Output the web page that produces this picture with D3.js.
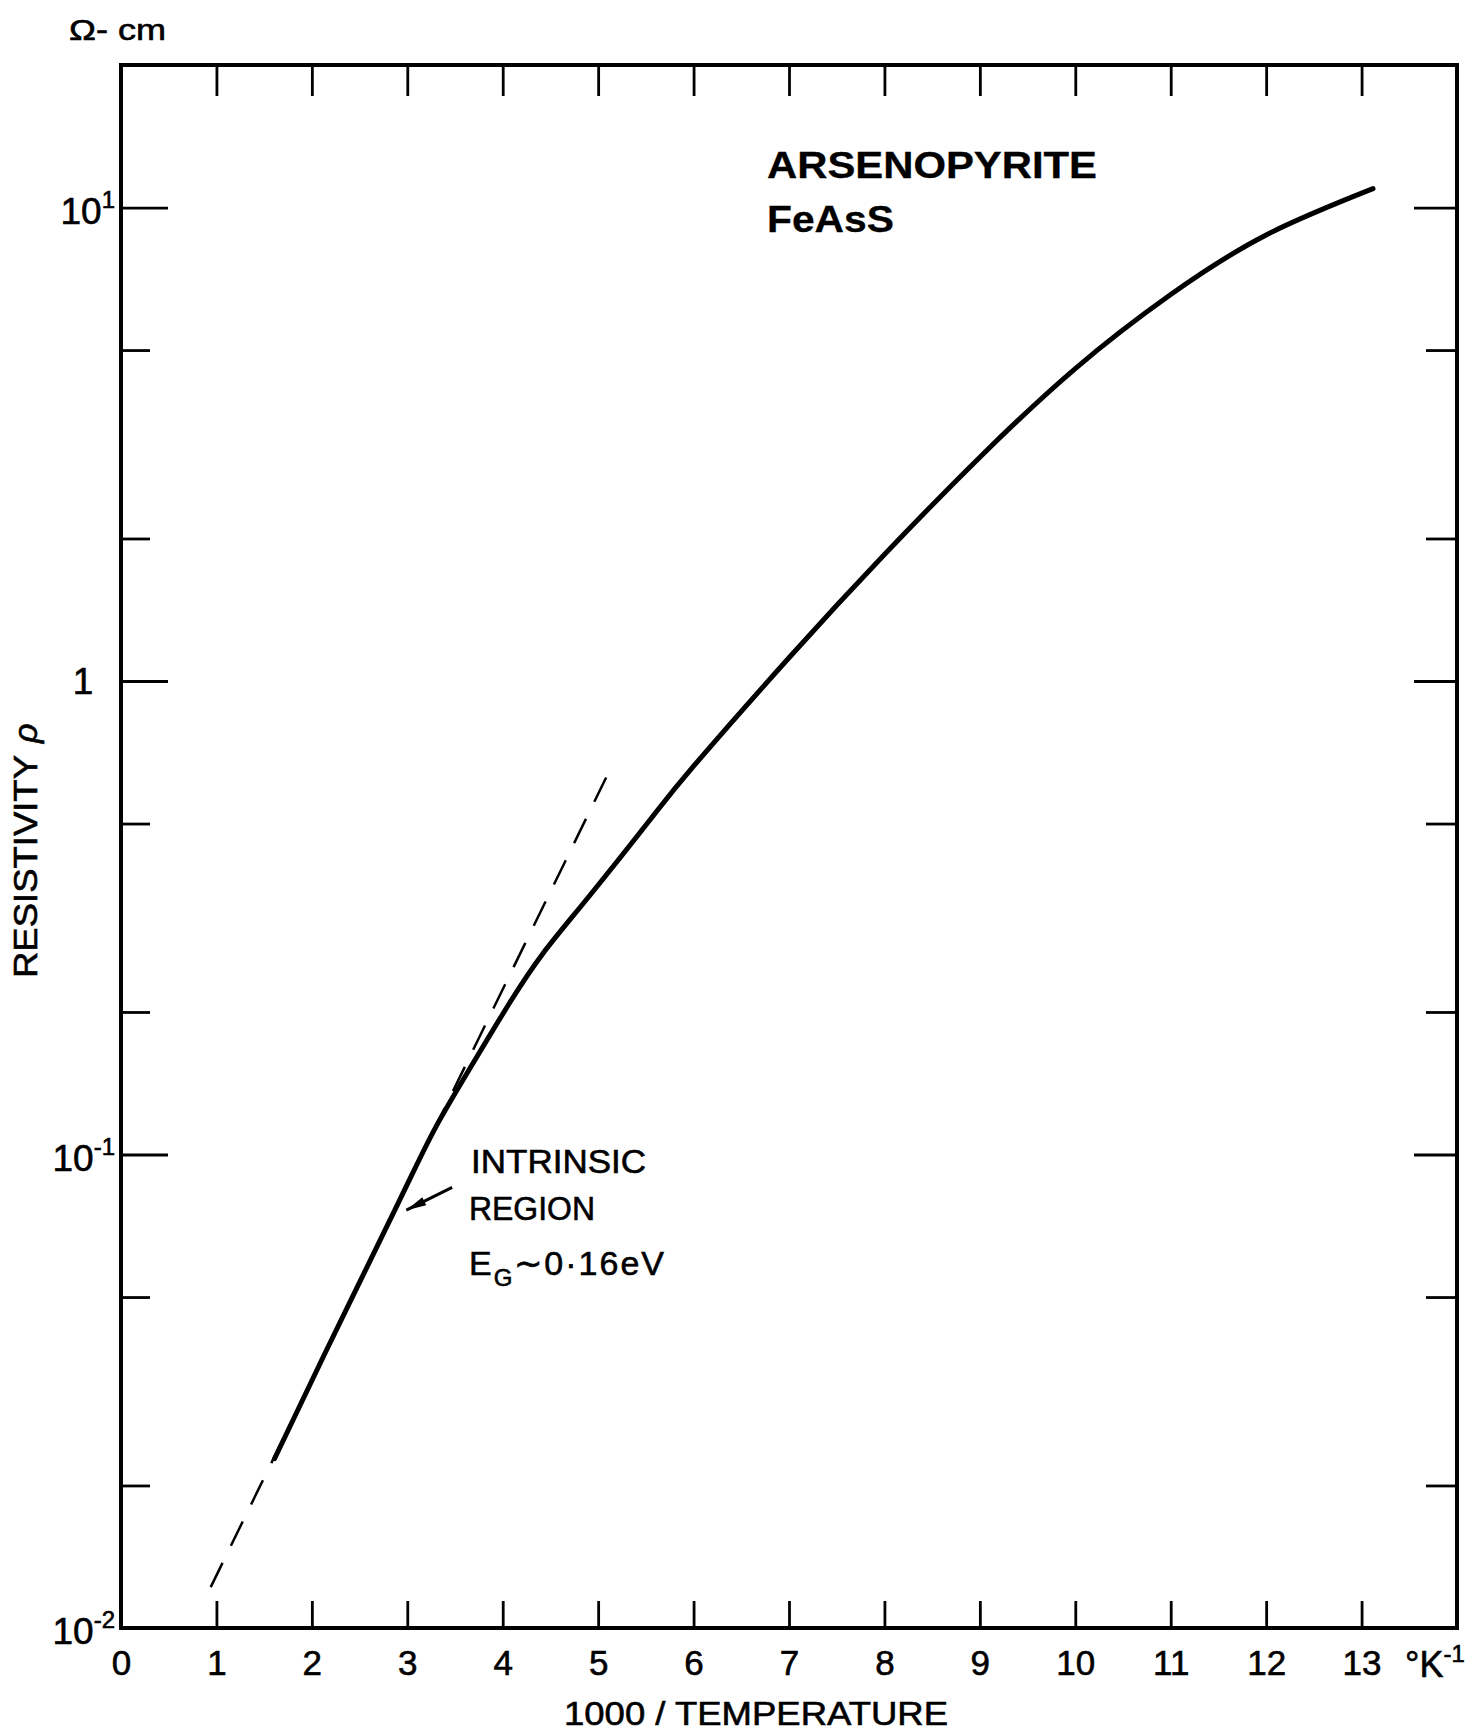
<!DOCTYPE html>
<html>
<head>
<meta charset="utf-8">
<script src="https://cdn.jsdelivr.net/npm/d3@7"></script>
<style>
  html, body { margin: 0; padding: 0; background: #fff; }
  svg { display: block; }
  text { font-family: "Liberation Sans", Arial, sans-serif; fill: #000; stroke: #000; stroke-width: 0.6px; }
  text.bold { stroke-width: 0.3px; }
</style>
</head>
<body>
<svg id="chart" width="1477" height="1734"></svg>
<script>
// Resistivity of arsenopyrite (FeAsS) versus reciprocal temperature
const invTemp = [1.61, 2.12, 2.92, 3.30, 3.69, 4.07, 4.42, 4.91, 5.54, 6.00, 7.00, 8.00, 9.00, 10.00, 11.00, 12.00, 13.12];
const resistivity = [0.0228, 0.0374, 0.0801, 0.1144, 0.156, 0.2087, 0.2656, 0.352, 0.508, 0.661, 1.12, 1.85, 2.97, 4.57, 6.55, 8.75, 10.96];

// Straight intrinsic-region line (E_G ~ 0.16 eV)
const intrinsicX = [0.94, 5.09];
const intrinsicRho = [0.0122, 0.629];

// Axis ticks and labels
const xTickValues = [0, 1, 2, 3, 4, 5, 6, 7, 8, 9, 10, 11, 12, 13];
const xTickLabels = ["0", "1", "2", "3", "4", "5", "6", "7", "8", "9", "10", "11", "12", "13"];
const yMajorValues = [0.01, 0.1, 1, 10];
const yMajorBase = ["10", "10", "1", "10"];
const yMajorExp = ["-2", "-1", "", "1"];
const yMinorValues = [0.02, 0.05, 0.2, 0.5, 2, 5];

const svg = d3.select("#chart");

const x = d3.scaleLinear().domain([0, 14]).range([121, 1457]);
const y = d3.scaleLog().domain([0.01, 20]).range([1628, 65]);

const [x0, x1] = x.range();
const [yb, yt] = y.range();

// ---- ticks (all pointing inward) ----
function styleAxis(g) {
  g.select(".domain").remove();
  g.selectAll(".tick line").attr("stroke", "#000").attr("stroke-width", 2.8);
}

const innerX = xTickValues.filter(v => v > 0);

svg.append("g")
  .attr("transform", `translate(0,${yb})`)
  .call(d3.axisBottom(x).tickValues(xTickValues).tickSizeInner(-27).tickSizeOuter(0)
        .tickPadding(22).tickFormat((d, i) => xTickLabels[i]))
  .call(styleAxis)
  .call(g => g.selectAll(".tick text")
      .attr("font-size", 35).attr("font-family", "Liberation Sans, Arial, sans-serif")
      .attr("fill", "#000").attr("stroke", "#000").attr("stroke-width", 0.6))
  .call(g => g.selectAll(".tick").filter(d => d === 0).select("line").remove());

svg.append("g")
  .attr("transform", `translate(0,${yt})`)
  .call(d3.axisTop(x).tickValues(innerX).tickSizeInner(-31).tickSizeOuter(0).tickFormat(""))
  .call(styleAxis);

svg.append("g")
  .attr("transform", `translate(${x0},0)`)
  .call(d3.axisLeft(y).tickValues(yMajorValues.filter(v => v > 0.01)).tickSizeInner(-47).tickSizeOuter(0).tickFormat(""))
  .call(styleAxis);
svg.append("g")
  .attr("transform", `translate(${x0},0)`)
  .call(d3.axisLeft(y).tickValues(yMinorValues).tickSizeInner(-29).tickSizeOuter(0).tickFormat(""))
  .call(styleAxis);

svg.append("g")
  .attr("transform", `translate(${x1},0)`)
  .call(d3.axisRight(y).tickValues(yMajorValues.filter(v => v > 0.01)).tickSizeInner(-43).tickSizeOuter(0).tickFormat(""))
  .call(styleAxis);
svg.append("g")
  .attr("transform", `translate(${x1},0)`)
  .call(d3.axisRight(y).tickValues(yMinorValues).tickSizeInner(-31).tickSizeOuter(0).tickFormat(""))
  .call(styleAxis);

// ---- frame ----
svg.append("rect")
  .attr("x", x0).attr("y", yt)
  .attr("width", x1 - x0).attr("height", yb - yt)
  .attr("fill", "none").attr("stroke", "#000").attr("stroke-width", 4);

// ---- y tick labels (powers of ten) ----
yMajorValues.forEach((v, i) => {
  if (yMajorExp[i] === "") {
    svg.append("text")
      .attr("x", 83).attr("y", y(v) + 13)
      .attr("text-anchor", "middle").attr("font-size", 37)
      .text(yMajorBase[i]);
  } else {
    const t = svg.append("text")
      .attr("x", 115).attr("y", y(v) + 16)
      .attr("text-anchor", "end").attr("font-size", 37);
    t.append("tspan").text(yMajorBase[i]);
    t.append("tspan").attr("font-size", 24).attr("dy", -16).text(yMajorExp[i]);
  }
});

// ---- unit labels ----
svg.append("text")
  .attr("x", 69).attr("y", 40)
  .attr("font-size", 30)
  .attr("textLength", 97).attr("lengthAdjust", "spacingAndGlyphs")
  .text("Ω- cm");

const unitX = svg.append("text")
  .attr("x", 1405).attr("y", 1677).attr("font-size", 36);
unitX.append("tspan").text("°K");
unitX.append("tspan").attr("font-size", 24).attr("dy", -15).text("-1");

// ---- axis titles ----
svg.append("text")
  .attr("x", 564).attr("y", 1725)
  .attr("font-size", 33)
  .attr("textLength", 384).attr("lengthAdjust", "spacingAndGlyphs")
  .text("1000 / TEMPERATURE");

const yTitle = svg.append("text")
  .attr("transform", "translate(37,978) rotate(-90)")
  .attr("font-size", 34);
yTitle.append("tspan").attr("textLength", 223).attr("lengthAdjust", "spacingAndGlyphs").text("RESISTIVITY");
yTitle.append("tspan").attr("dx", 12).attr("font-style", "italic").text("ρ");

// ---- mineral name ----
svg.append("text").attr("class", "bold")
  .attr("x", 767).attr("y", 178)
  .attr("font-size", 37).attr("font-weight", "bold")
  .attr("textLength", 330).attr("lengthAdjust", "spacingAndGlyphs")
  .text("ARSENOPYRITE");
svg.append("text").attr("class", "bold")
  .attr("x", 767).attr("y", 232)
  .attr("font-size", 37).attr("font-weight", "bold")
  .attr("textLength", 127).attr("lengthAdjust", "spacingAndGlyphs")
  .text("FeAsS");

// ---- curves ----
const pts = invTemp.map((t, i) => [t, resistivity[i]]);
const line = d3.line()
  .x(d => x(d[0]))
  .y(d => y(d[1]))
  .curve(d3.curveNatural);

svg.append("path")
  .datum(intrinsicX.map((t, i) => [t, intrinsicRho[i]]))
  .attr("d", d3.line().x(d => x(d[0])).y(d => y(d[1])))
  .attr("fill", "none").attr("stroke", "#000")
  .attr("stroke-width", 2.5).attr("stroke-dasharray", "27,19");

svg.append("path")
  .datum(pts)
  .attr("d", line)
  .attr("fill", "none").attr("stroke", "#000")
  .attr("stroke-width", 5).attr("stroke-linecap", "round").attr("stroke-linejoin", "round");

// ---- intrinsic region annotation ----
const tail = [x(3.47), y(0.0852)];
const tip = [x(2.99), y(0.0763)];
svg.append("line")
  .attr("x1", tail[0]).attr("y1", tail[1]).attr("x2", tip[0]).attr("y2", tip[1])
  .attr("stroke", "#000").attr("stroke-width", 3);
{
  const dx = tail[0] - tip[0], dy = tail[1] - tip[1];
  const len = Math.hypot(dx, dy), ux = dx / len, uy = dy / len;
  const bx = tip[0] + ux * 20, by = tip[1] + uy * 20;
  const px = -uy * 4.5, py = ux * 4.5;
  svg.append("polygon")
    .attr("points", [[tip[0], tip[1]], [bx + px, by + py], [bx - px, by - py]].map(p => p.join(",")).join(" "))
    .attr("fill", "#000");
}

svg.append("text").attr("x", 471).attr("y", 1173).attr("font-size", 34)
  .attr("textLength", 175).attr("lengthAdjust", "spacingAndGlyphs").text("INTRINSIC");
svg.append("text").attr("x", 469).attr("y", 1220).attr("font-size", 34)
  .attr("textLength", 126).attr("lengthAdjust", "spacingAndGlyphs").text("REGION");
const eg = svg.append("text").attr("x", 469).attr("y", 1275).attr("font-size", 34)
  .attr("letter-spacing", 2);
eg.append("tspan").text("E");
eg.append("tspan").attr("font-size", 24).attr("dy", 11).text("G");
eg.append("tspan").attr("dy", -11).text("∼0·16eV");
</script>
</body>
</html>
